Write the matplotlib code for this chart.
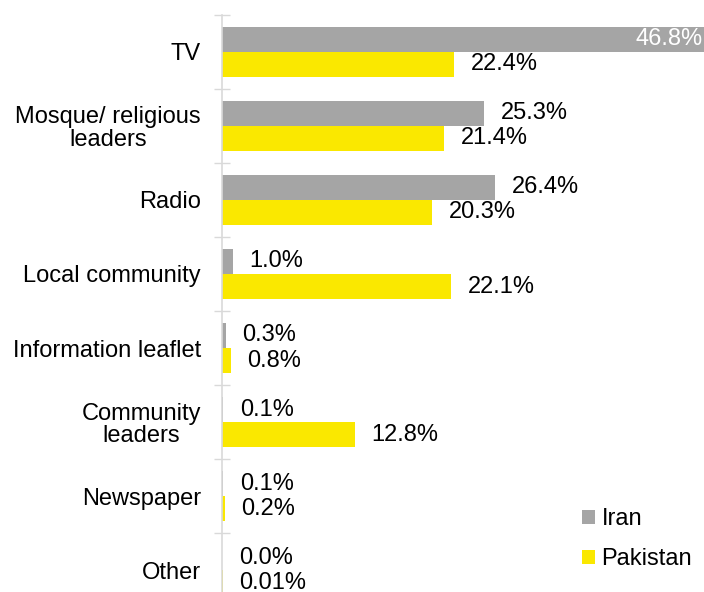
import numpy as np
import matplotlib
matplotlib.use("Agg")
import matplotlib.pyplot as plt

plt.rcParams['font.family'] = ['Liberation Sans', 'DejaVu Sans']

# sources of information, top to bottom
categories = ["TV", "Mosque/ religious\nleaders", "Radio", "Local community",
              "Information leaflet", "Community\nleaders", "Newspaper", "Other"]
iran = [46.8, 25.3, 26.4, 1.0, 0.3, 0.1, 0.1, 0.0]
pakistan = [22.4, 21.4, 20.3, 22.1, 0.8, 12.8, 0.2, 0.01]
iran_labels = ["46.8%", "25.3%", "26.4%", "1.0%", "0.3%", "0.1%", "0.1%", "0.0%"]
pakistan_labels = ["22.4%", "21.4%", "20.3%", "22.1%", "0.8%", "12.8%", "0.2%", "0.01%"]

GREY = '#A5A5A5'
YELLOW = '#FAE800'

fig = plt.figure(figsize=(7.04, 5.92), dpi=100)
ax = fig.add_axes([0.316, 0.0, 0.684, 0.9747])

y = np.arange(len(categories))
h = 0.338
ax.barh(y - h / 2, iran, height=h, color=GREY, label='Iran')
ax.barh(y + h / 2, pakistan, height=h, color=YELLOW, label='Pakistan')

# value labels just past the bar ends; the long TV bar gets its label inside
for i, (v, lab) in enumerate(zip(iran, iran_labels)):
    if v > 40:
        ax.annotate(lab, xy=(1, y[i] - h / 2), xycoords=('axes fraction', 'data'),
                    xytext=(-1, 0), textcoords='offset points',
                    ha='right', va='center', fontsize=17, color='white')
    else:
        ax.annotate(lab, xy=(v, y[i] - h / 2), xytext=(12, 0),
                    textcoords='offset points', ha='left', va='center',
                    fontsize=17, color='black')
for i, (v, lab) in enumerate(zip(pakistan, pakistan_labels)):
    ax.annotate(lab, xy=(v, y[i] + h / 2), xytext=(12, 0),
                textcoords='offset points', ha='left', va='center',
                fontsize=17, color='black')

# ticks on the category boundaries, labels at the centres
ax.set_yticks(np.arange(len(categories) + 1) - 0.5)
ax.set_yticklabels([])
ax.tick_params(axis='y', which='major', direction='inout', length=11,
               width=1, color='#D9D9D9')
ax.set_yticks(y, minor=True)
ax.set_yticklabels(categories, minor=True, fontsize=17, multialignment='center',
                   linespacing=1.05)
ax.tick_params(axis='y', which='minor', length=0, pad=15.5)

ax.set_xticks([])
ax.set_xlim(0, 46.57)
ax.set_ylim(7.297, -0.5)
for s in ['top', 'right', 'bottom']:
    ax.spines[s].set_visible(False)
ax.spines['left'].set_color('#D9D9D9')
ax.spines['left'].set_linewidth(1.2)

ax.legend(loc='upper left', bbox_to_anchor=(582 / 704, 1 - 508 / 592),
          bbox_transform=fig.transFigure, frameon=False, fontsize=17,
          handlelength=0.55, handleheight=0.55, handletextpad=0.28,
          labelspacing=0.78, borderpad=0, borderaxespad=0)

fig.savefig('out.png', dpi=100)
